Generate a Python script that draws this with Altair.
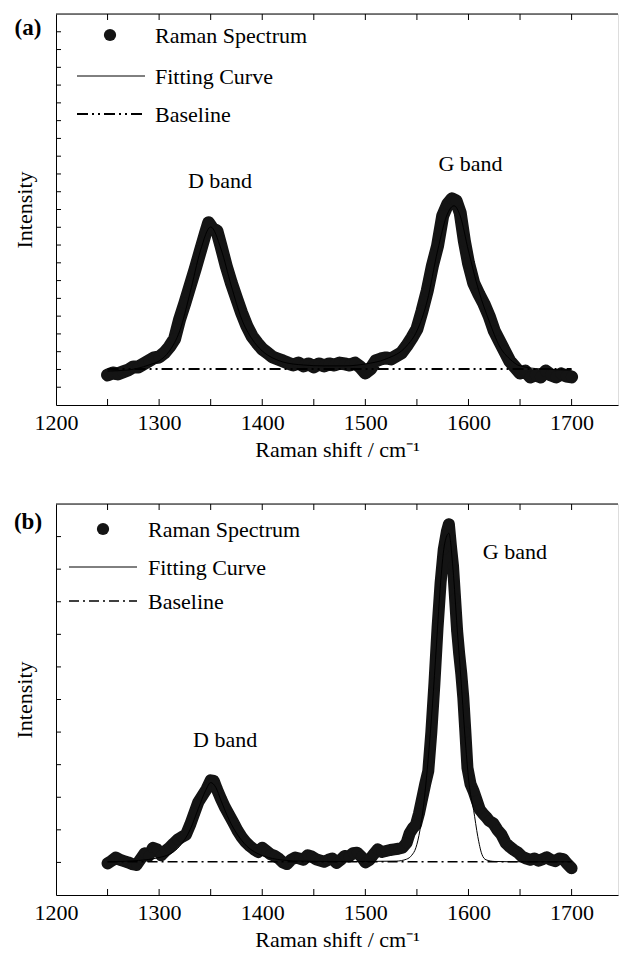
import altair as alt
import pandas as pd

FONT = "Liberation Serif"
INK = "#141414"
W = 562
H = 391
FS = 22

# ---------------- shared x axis ----------------
X_DOMAIN = [1200, 1745]
x_labels = [1200, 1300, 1400, 1500, 1600, 1700]
x_ticks = [1250, 1300, 1350, 1400, 1450, 1500, 1550, 1600, 1650, 1700]
x_title = "Raman shift / cm\u207b\u00b9"
y_title = "Intensity"
legend_labels = ["Raman Spectrum", "Fitting Curve", "Baseline"]

# ---------------- panel (a) ----------------
a_shift = [1250, 1255, 1260, 1265, 1270, 1275, 1280, 1285, 1290, 1295, 1300, 1305, 1310, 1315,
           1320, 1325, 1330, 1335, 1340, 1345, 1348, 1352, 1356, 1360, 1365, 1370, 1375, 1380,
           1385, 1390, 1395, 1400, 1405, 1410, 1415, 1420, 1425, 1430, 1435, 1440, 1445, 1450,
           1455, 1460, 1465, 1470, 1475, 1480, 1485, 1490, 1495, 1500, 1505, 1510, 1515, 1520,
           1525, 1530, 1535, 1540, 1545, 1550, 1555, 1560, 1565, 1570, 1575, 1580, 1584, 1588,
           1592, 1596, 1600, 1605, 1610, 1615, 1620, 1625, 1630, 1635, 1640, 1645, 1650, 1655,
           1660, 1665, 1670, 1675, 1680, 1685, 1690, 1695, 1700]
a_int = [169, 180, 175, 186, 197, 214, 214, 231, 248, 265, 270, 293, 327, 372,
         484, 574, 670, 766, 867, 968, 1025, 991, 980, 895, 783, 687, 602, 518,
         445, 388, 349, 315, 293, 270, 259, 248, 236, 225, 236, 220, 231, 214,
         231, 220, 231, 225, 236, 231, 225, 236, 214, 180, 203, 248, 259, 265,
         259, 276, 293, 332, 377, 428, 529, 642, 783, 895, 1064, 1132, 1160, 1149,
         1081, 923, 799, 687, 625, 569, 501, 417, 360, 304, 248, 214, 180, 191,
         158, 169, 158, 191, 169, 158, 175, 163, 158]
a_fit_shift = [1250, 1270, 1290, 1300, 1310, 1320, 1330, 1340, 1350, 1360, 1370, 1380, 1390,
               1400, 1410, 1420, 1440, 1460, 1480, 1500, 1520, 1540, 1550, 1560, 1570, 1580,
               1586, 1592, 1600, 1610, 1620, 1630, 1640, 1650, 1670, 1700]
a_fit_int = [191, 197, 225, 248, 304, 417, 631, 867, 1002, 878, 670, 484, 372,
             304, 265, 242, 225, 220, 220, 231, 259, 332, 417, 586, 867, 1081,
             1121, 1064, 867, 642, 473, 332, 259, 220, 203, 197]
a_base_shift = [1250, 1700]
a_base_int = [203, 203]
a_y_domain = [0, 2200]
a_y_ticks = list(range(100, 2200, 100))
a_bands = ["D band", "G band"]
a_band_shift = [1359, 1602]
a_band_int = [1261, 1357]

# ---------------- panel (b) ----------------
b_shift = [1250, 1254, 1258, 1262, 1266, 1270, 1274, 1278, 1282, 1286, 1290, 1294, 1298, 1302,
           1306, 1310, 1314, 1318, 1322, 1326, 1330, 1334, 1338, 1342, 1346, 1350, 1353, 1356,
           1360, 1364, 1368, 1372, 1376, 1380, 1384, 1388, 1392, 1396, 1400, 1404, 1408, 1412,
           1416, 1420, 1424, 1428, 1432, 1436, 1440, 1444, 1448, 1452, 1456, 1460, 1464, 1468,
           1472, 1476, 1480, 1484, 1488, 1492, 1496, 1500, 1504, 1508, 1512, 1516, 1520, 1524,
           1528, 1532, 1536, 1540, 1543, 1546, 1549, 1552, 1555, 1558, 1561, 1564, 1567, 1570,
           1573, 1576, 1579, 1581, 1583, 1585, 1587, 1589, 1591, 1593, 1595, 1597, 1599, 1602,
           1605, 1608, 1611, 1614, 1617, 1620, 1624, 1628, 1632, 1636, 1640, 1644, 1648, 1652,
           1656, 1660, 1664, 1668, 1672, 1676, 1680, 1684, 1688, 1692, 1696, 1700]
b_int = [97, 105, 115, 108, 104, 100, 95, 92, 110, 128, 120, 145, 140, 122,
         135, 145, 158, 170, 178, 185, 215, 250, 285, 305, 325, 352, 350, 325,
         295, 268, 245, 222, 198, 178, 162, 150, 140, 132, 145, 135, 125, 120,
         112, 100, 95, 108, 115, 112, 108, 122, 118, 110, 106, 102, 108, 112,
         98, 108, 120, 118, 128, 130, 118, 100, 108, 125, 140, 132, 135, 138,
         140, 142, 145, 160, 190, 205, 215, 250, 295, 340, 380, 500, 650, 820,
         960, 1060, 1115, 1138, 1070, 1010, 910, 810, 740, 680, 605, 500, 390, 340,
         318, 290, 262, 250, 240, 228, 220, 200, 185, 160, 148, 138, 130, 118,
         112, 108, 112, 105, 110, 116, 108, 104, 112, 110, 95, 82]
b_fit_shift = [1250, 1280, 1300, 1310, 1320, 1330, 1338, 1345, 1350, 1355, 1360, 1368, 1375,
               1385, 1395, 1410, 1430, 1460, 1500, 1530, 1540, 1545, 1549, 1553, 1557, 1561,
               1565, 1569, 1573, 1577, 1581, 1585, 1589, 1593, 1597, 1601, 1605, 1609, 1613,
               1617, 1625, 1640, 1700]
b_fit_int = [102, 106, 115, 125, 150, 200, 265, 320, 345, 330, 290, 230, 190,
             150, 128, 112, 105, 103, 103, 104, 110, 122, 145, 200, 290, 420,
             580, 770, 960, 1080, 1110, 1000, 820, 650, 470, 330, 260, 180, 125,
             108, 103, 102, 102]
b_base_shift = [1250, 1700]
b_base_int = [102, 102]
b_y_domain = [0, 1200]
b_y_ticks = list(range(100, 1200, 100))
b_bands = ["D band", "G band"]
b_band_shift = [1364, 1645]
b_band_int = [476, 1053]


def panel(tag, sx, sy, fx, fy, bx, by, ydom, yticks, bands, band_x, band_y,
          dot_size, line_w, base_dash, base_w, leg):
    x_axis = alt.Axis(values=x_labels, format="d", ticks=False, grid=False,
                      domainColor="black", domainWidth=1, labelFont=FONT, labelFontSize=FS,
                      labelColor="black", labelFlush=False, labelOverlap=False,
                      labelPadding=7, title=x_title, titleFont=FONT, titleFontSize=FS,
                      titleFontWeight="normal", titleColor="black", titlePadding=6)
    y_axis = alt.Axis(labels=False, ticks=False, grid=False, domainColor="black",
                      domainWidth=1, title=y_title, titleFont=FONT, titleFontSize=FS,
                      titleFontWeight="normal", titleColor="black", titlePadding=20)
    X = alt.X("shift:Q", scale=alt.Scale(domain=X_DOMAIN, nice=False, zero=False), axis=x_axis)
    Y = alt.Y("intensity:Q", scale=alt.Scale(domain=ydom, nice=False, zero=False), axis=y_axis)

    spec = pd.DataFrame({"shift": sx, "intensity": sy})
    fit = pd.DataFrame({"shift": fx, "intensity": fy})
    base = pd.DataFrame({"shift": bx, "intensity": by})
    xt = pd.DataFrame({"shift": x_ticks})
    yt = pd.DataFrame({"intensity": yticks})
    bl = pd.DataFrame({"shift": band_x, "intensity": band_y, "label": bands})
    one = pd.DataFrame({"k": [0]})

    layers = [
        alt.Chart(spec).mark_line(color=INK, strokeWidth=line_w, strokeCap="round",
                                  strokeJoin="round").encode(x=X, y=Y),
        alt.Chart(spec).mark_circle(color=INK, size=dot_size, opacity=1).encode(x=X, y=Y),
        alt.Chart(fit).mark_line(color="black", strokeWidth=1,
                                 interpolate="monotone").encode(x=X, y=Y),
        alt.Chart(base).mark_line(color="black", strokeWidth=base_w,
                                  strokeDash=base_dash).encode(x=X, y=Y),
        alt.Chart(xt).mark_rule(color="black", strokeWidth=1).encode(
            x=X, y=alt.value(H), y2=alt.value(H - 6)),
        alt.Chart(xt).mark_rule(color="black", strokeWidth=1).encode(
            x=X, y=alt.value(0), y2=alt.value(6)),
        alt.Chart(yt).mark_rule(color="black", strokeWidth=1).encode(
            y=Y, x=alt.value(0), x2=alt.value(5)),
        alt.Chart(one).mark_rule(color="black", strokeWidth=1).encode(
            x=alt.value(0), x2=alt.value(W), y=alt.value(0)),
        alt.Chart(bl).mark_text(font=FONT, fontSize=FS, color="black").encode(
            x=X, y=Y, text="label:N"),
        alt.Chart(one).mark_text(font=FONT, fontSize=FS + 1, fontWeight="bold",
                                 color="black").encode(
            x=alt.value(-28), y=alt.value(leg["tag_y"]), text=alt.value(tag)),
        alt.Chart(one).mark_circle(color=INK, size=150, opacity=1).encode(
            x=alt.value(leg["dot_x"]), y=alt.value(leg["ys"][0])),
        alt.Chart(one).mark_rule(color="black", strokeWidth=1).encode(
            x=alt.value(leg["line_x"][0]), x2=alt.value(leg["line_x"][1]),
            y=alt.value(leg["ys"][1])),
        alt.Chart(one).mark_rule(color="black", strokeWidth=base_w,
                                 strokeDash=base_dash).encode(
            x=alt.value(leg["line_x"][0]), x2=alt.value(leg["line_x"][1]),
            y=alt.value(leg["ys"][2])),
    ]
    for lab, yy in zip(legend_labels, leg["ys"]):
        layers.append(
            alt.Chart(one).mark_text(font=FONT, fontSize=FS, color="black", align="left",
                                     baseline="middle").encode(
                x=alt.value(leg["text_x"]), y=alt.value(yy + 1), text=alt.value(lab)))
    return alt.layer(*layers).properties(width=W, height=H)


top = panel("(a)", a_shift, a_int, a_fit_shift, a_fit_int, a_base_shift, a_base_int,
            a_y_domain, a_y_ticks, a_bands, a_band_shift, a_band_int,
            dot_size=135, line_w=13, base_dash=[11, 4, 2, 4, 2, 4], base_w=2,
            leg={"tag_y": 14, "dot_x": 54, "ys": [21, 62, 100], "line_x": [21, 89],
                 "text_x": 99})
bottom = panel("(b)", b_shift, b_int, b_fit_shift, b_fit_int, b_base_shift, b_base_int,
               b_y_domain, b_y_ticks, b_bands, b_band_shift, b_band_int,
               dot_size=115, line_w=12, base_dash=[10, 4, 2, 4], base_w=1.4,
               leg={"tag_y": 18, "dot_x": 47, "ys": [25, 63, 97], "line_x": [13, 81],
                    "text_x": 92})

chart = alt.vconcat(top, bottom, spacing=42).properties(
    padding={"left": 12, "top": 13, "right": 0, "bottom": 0}
).configure_view(stroke=None).configure(background="white")

chart.save("out.html", embed_options={"renderer": "svg", "actions": False})
